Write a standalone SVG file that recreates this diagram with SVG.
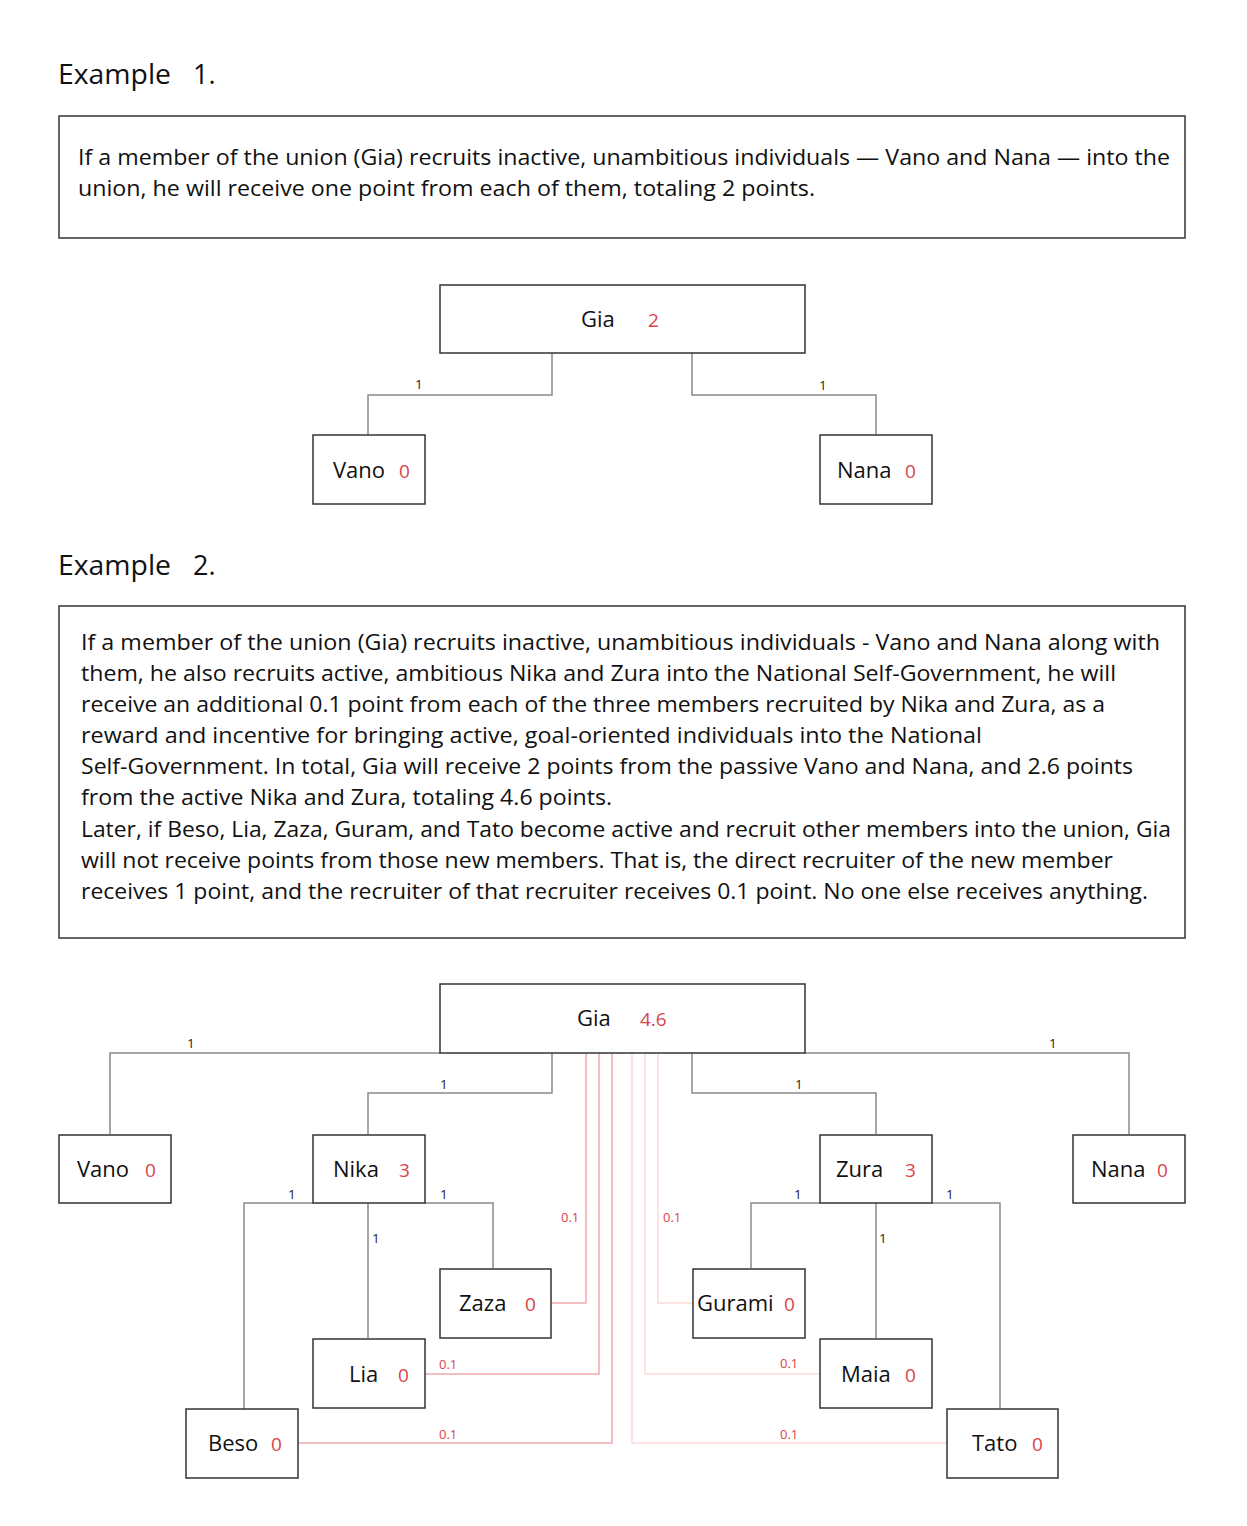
<svg xmlns="http://www.w3.org/2000/svg" width="1247" height="1526" viewBox="0 0 1247 1526">
<style>
text{font-family:"Open Sans","Noto Sans","Liberation Sans",sans-serif;}
.title{font-size:27px;fill:#111;}
.para{font-size:22.5px;fill:#111;}
.box{fill:#fff;stroke:#333;stroke-width:1.5;}
.frame{fill:none;stroke:#333;stroke-width:1.5;}
.name{font-size:22px;fill:#111;}
.pts{font-size:19px;fill:#d9434a;}
.lbl{font-size:13.5px;fill:#222;}
.rlbl{font-size:13px;fill:#d9434a;}
.con{fill:none;stroke:#8a8a8a;stroke-width:1.5;}
.red1{fill:none;stroke:#f2a9ac;stroke-width:1.5;}
.red2{fill:none;stroke:#fbdadb;stroke-width:1.5;}
</style>
<rect width="1247" height="1526" fill="#fff"/>

<!-- Example 1 -->
<text class="title" x="58" y="84" textLength="113" lengthAdjust="spacingAndGlyphs">Example</text>
<text class="title" x="193" y="84">1.</text>
<rect class="frame" x="59" y="116" width="1126" height="122"/>
<text class="para" x="78" y="165" textLength="1092" lengthAdjust="spacingAndGlyphs">If a member of the union (Gia) recruits inactive, unambitious individuals — Vano and Nana — into the</text>
<text class="para" x="78" y="196" textLength="737" lengthAdjust="spacingAndGlyphs">union, he will receive one point from each of them, totaling 2 points.</text>

<g id="connectors1">
<polyline class="con" points="552,353 552,395 368,395 368,435"/>
<polyline class="con" points="692,353 692,395 876,395 876,435"/>
<text class="lbl" x="415" y="389">1</text>
<text class="lbl" x="819" y="390">1</text>
</g>
<g id="ex1-gia"><rect class="box" x="440" y="285" width="365" height="68"/><text class="name" x="581" y="327">Gia</text><text class="pts" x="648" y="327">2</text></g>
<g id="ex1-vano"><rect class="box" x="313" y="435" width="112" height="69"/><text class="name" x="333" y="478">Vano</text><text class="pts" x="399" y="478">0</text></g>
<g id="ex1-nana"><rect class="box" x="820" y="435" width="112" height="69"/><text class="name" x="837" y="478">Nana</text><text class="pts" x="905" y="478">0</text></g>

<!-- Example 2 -->
<text class="title" x="58" y="575" textLength="113" lengthAdjust="spacingAndGlyphs">Example</text>
<text class="title" x="193" y="575">2.</text>
<rect class="frame" x="59" y="606" width="1126" height="332"/>
<text class="para" x="81" y="650" textLength="1079" lengthAdjust="spacingAndGlyphs">If a member of the union (Gia) recruits inactive, unambitious individuals  - Vano and Nana along with</text>
<text class="para" x="81" y="681" textLength="1035" lengthAdjust="spacingAndGlyphs">them, he also recruits active, ambitious Nika and Zura into the National Self-Government, he will</text>
<text class="para" x="81" y="712" textLength="1024" lengthAdjust="spacingAndGlyphs">receive an additional 0.1 point from each of the three members recruited by Nika and Zura, as a</text>
<text class="para" x="81" y="743" textLength="901" lengthAdjust="spacingAndGlyphs">reward and incentive for bringing active, goal-oriented individuals into the National</text>
<text class="para" x="81" y="774" textLength="1052" lengthAdjust="spacingAndGlyphs">Self-Government. In total, Gia will receive 2 points from the passive Vano and Nana, and 2.6 points</text>
<text class="para" x="81" y="805" textLength="531" lengthAdjust="spacingAndGlyphs">from the active Nika and Zura, totaling 4.6 points.</text>
<text class="para" x="81" y="837" textLength="1090" lengthAdjust="spacingAndGlyphs">Later, if Beso, Lia, Zaza, Guram, and Tato become active and recruit other members into the union, Gia</text>
<text class="para" x="81" y="868" textLength="1032" lengthAdjust="spacingAndGlyphs">will not receive points from those new members. That is, the direct recruiter of the new member</text>
<text class="para" x="81" y="899" textLength="1067" lengthAdjust="spacingAndGlyphs">receives 1 point, and the recruiter of that recruiter receives 0.1 point. No one else receives anything.</text>

<g id="connectors2">
<!-- 0.1 red connectors -->
<polyline class="red1" points="586,1053 586,1303 551,1303"/>
<polyline class="red1" points="599,1053 599,1374 425,1374"/>
<polyline class="red1" points="612,1053 612,1443 298,1443"/>
<polyline class="red2" points="632,1053 632,1443 947,1443"/>
<polyline class="red2" points="645,1053 645,1374 820,1374"/>
<polyline class="red2" points="658,1053 658,1303 693,1303"/>
<text class="rlbl" x="561" y="1222">0.1</text>
<text class="rlbl" x="663" y="1222">0.1</text>
<text class="rlbl" x="439" y="1369">0.1</text>
<text class="rlbl" x="439" y="1439">0.1</text>
<text class="rlbl" x="780" y="1368">0.1</text>
<text class="rlbl" x="780" y="1439">0.1</text>
<!-- 1-point connectors -->
<polyline class="con" points="440,1053 110,1053 110,1134"/>
<polyline class="con" points="805,1053 1129,1053 1129,1134"/>
<polyline class="con" points="552,1053 552,1093 368,1093 368,1134"/>
<polyline class="con" points="692,1053 692,1093 876,1093 876,1134"/>
<polyline class="con" points="313,1203 244,1203 244,1409"/>
<polyline class="con" points="425,1203 493,1203 493,1268"/>
<polyline class="con" points="368,1203 368,1338"/>
<polyline class="con" points="820,1203 751,1203 751,1268"/>
<polyline class="con" points="876,1203 876,1338"/>
<polyline class="con" points="932,1203 1000,1203 1000,1409"/>
<text class="lbl" x="187" y="1048">1</text>
<text class="lbl" x="1049" y="1048">1</text>
<text class="lbl" x="440" y="1089">1</text>
<text class="lbl" x="795" y="1089">1</text>
<text class="lbl" x="288" y="1199">1</text>
<text class="lbl" x="440" y="1199">1</text>
<text class="lbl" x="372" y="1243">1</text>
<text class="lbl" x="794" y="1199">1</text>
<text class="lbl" x="946" y="1199">1</text>
<text class="lbl" x="879" y="1243">1</text>
</g>

<g id="ex2-gia"><rect class="box" x="440" y="984" width="365" height="69"/><text class="name" x="577" y="1026">Gia</text><text class="pts" x="640" y="1026">4.6</text></g>
<g id="ex2-vano"><rect class="box" x="59" y="1135" width="112" height="68"/><text class="name" x="77" y="1177">Vano</text><text class="pts" x="145" y="1177">0</text></g>
<g id="ex2-nika"><rect class="box" x="313" y="1135" width="112" height="68"/><text class="name" x="333" y="1177">Nika</text><text class="pts" x="399" y="1177">3</text></g>
<g id="ex2-zura"><rect class="box" x="820" y="1135" width="112" height="68"/><text class="name" x="836" y="1177">Zura</text><text class="pts" x="905" y="1177">3</text></g>
<g id="ex2-nana"><rect class="box" x="1073" y="1135" width="112" height="68"/><text class="name" x="1091" y="1177">Nana</text><text class="pts" x="1157" y="1177">0</text></g>
<g id="ex2-zaza"><rect class="box" x="440" y="1269" width="111" height="69"/><text class="name" x="459" y="1311">Zaza</text><text class="pts" x="525" y="1311">0</text></g>
<g id="ex2-gurami"><rect class="box" x="693" y="1269" width="112" height="69"/><text class="name" x="697" y="1311">Gurami</text><text class="pts" x="784" y="1311">0</text></g>
<g id="ex2-lia"><rect class="box" x="313" y="1339" width="112" height="69"/><text class="name" x="349" y="1382">Lia</text><text class="pts" x="398" y="1382">0</text></g>
<g id="ex2-maia"><rect class="box" x="820" y="1339" width="112" height="69"/><text class="name" x="841" y="1382">Maia</text><text class="pts" x="905" y="1382">0</text></g>
<g id="ex2-beso"><rect class="box" x="186" y="1409" width="112" height="69"/><text class="name" x="208" y="1451">Beso</text><text class="pts" x="271" y="1451">0</text></g>
<g id="ex2-tato"><rect class="box" x="947" y="1409" width="111" height="69"/><text class="name" x="972" y="1451">Tato</text><text class="pts" x="1032" y="1451">0</text></g>
</svg>
